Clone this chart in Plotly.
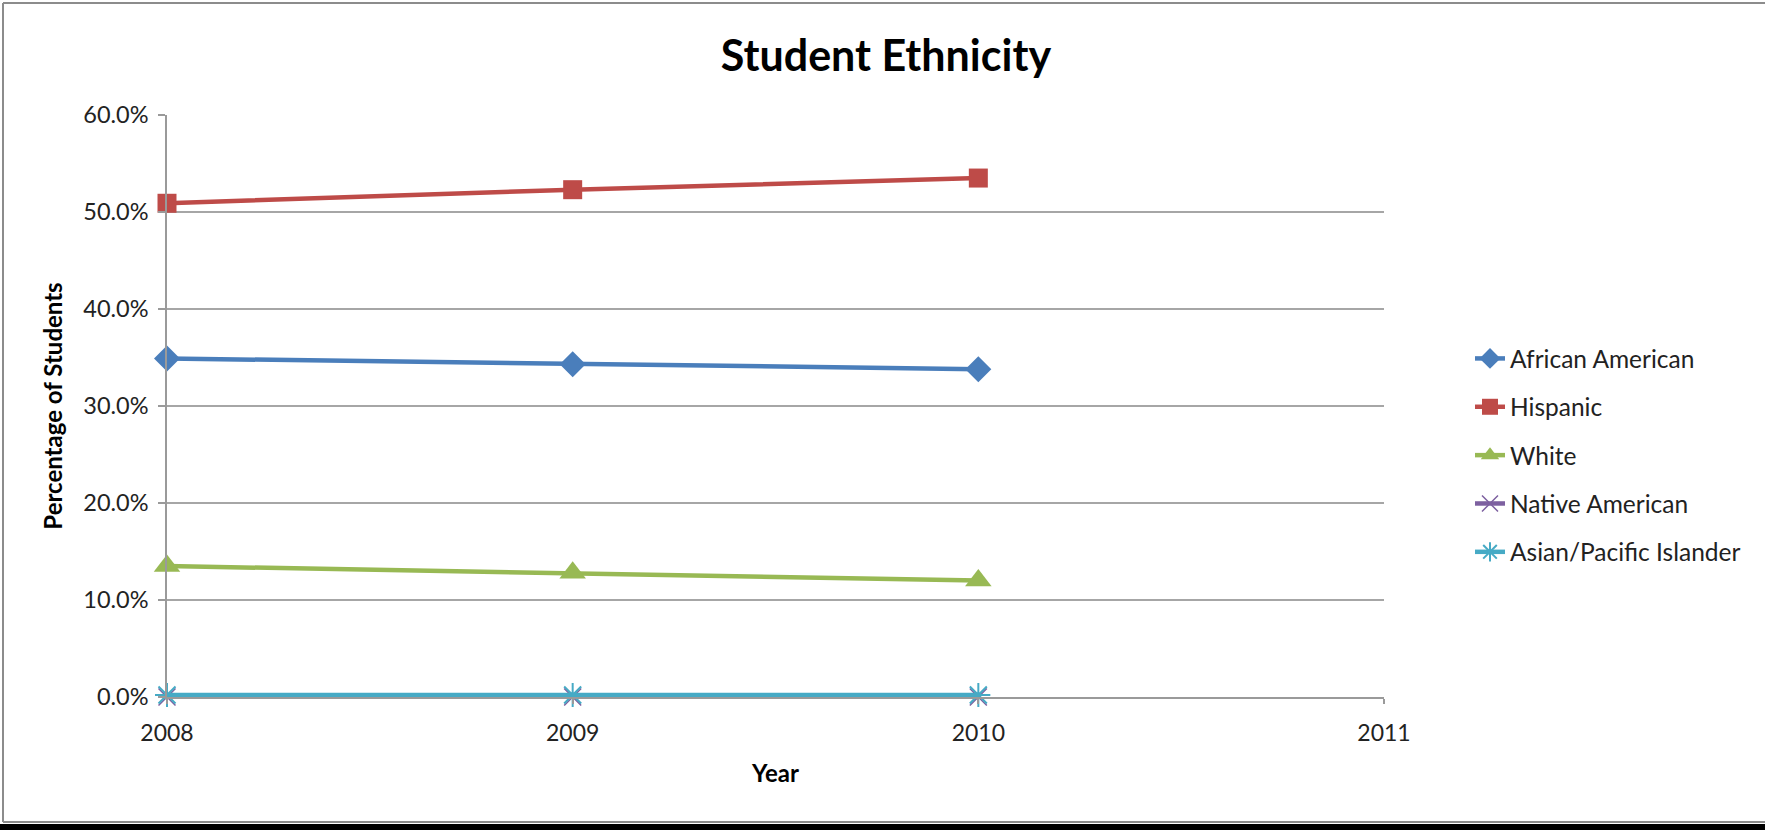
import plotly.graph_objects as go

years = [2008, 2009, 2010]
african_american = [34.9, 34.3, 33.8]
hispanic = [50.9, 52.3, 53.5]
white = [13.5, 12.8, 12.0]
native_american = [0.0, 0.0, 0.0]
asian_pacific = [0.2, 0.2, 0.2]

y_ticks = [0, 10, 20, 30, 40, 50, 60]
y_tick_labels = ["0.0%", "10.0%", "20.0%", "30.0%", "40.0%", "50.0%", "60.0%"]
x_ticks = [2008, 2009, 2010, 2011]

FONT = "Lato"
W, H = 1765, 830
L, R, T, B = 167, 1384, 115, 697

series = [
    ("African American", african_american, "#4A7EBB", dict(symbol="diamond", size=20)),
    ("Hispanic", hispanic, "#BE4B48", dict(symbol="square", size=19)),
    ("White", white, "#98B954", dict(symbol="triangle-up", size=23)),
    ("Native American", native_american, "#7D60A0",
     dict(symbol="x-thin-open", size=17, line=dict(width=1.5, color="#9C87BB"))),
    ("Asian/Pacific Islander", asian_pacific, "#46AAC5",
     dict(symbol="asterisk-open", size=20, line=dict(width=2, color="#46AAC5"))),
]

fig = go.Figure()
for i, (name, vals, color, mk) in enumerate(series):
    marker = dict(color=color, **mk)
    fig.add_trace(go.Scatter(
        x=years, y=vals, name=name, mode="lines+markers",
        line=dict(color=color, width=4.5), marker=marker,
        legendgroup=f"g{i}", cliponaxis=False,
    ))

def px_x(p):
    return (p - L) / (R - L)

def px_y(p):
    return (B - p) / (B - T)

shapes = [
    dict(type="line", xref="paper", yref="paper", x0=px_x(3), x1=px_x(W), y0=px_y(3), y1=px_y(3),
         line=dict(color="#8C8C8C", width=2)),
    dict(type="line", xref="paper", yref="paper", x0=px_x(3), x1=px_x(3), y0=px_y(3), y1=px_y(822),
         line=dict(color="#8C8C8C", width=2)),
    dict(type="line", xref="paper", yref="paper", x0=px_x(3), x1=px_x(W), y0=px_y(822), y1=px_y(822),
         line=dict(color="#8C8C8C", width=2)),
    dict(type="rect", xref="paper", yref="paper", x0=px_x(0), x1=px_x(W), y0=px_y(824), y1=px_y(832),
         line=dict(width=0), fillcolor="#000000"),
]

fig.update_layout(
    width=W, height=H,
    margin=dict(l=L, r=W - R, t=T, b=H - B, pad=0),
    paper_bgcolor="white", plot_bgcolor="white",
    font=dict(family=FONT, color="#000000", size=22),
    title=dict(text="<b>Student Ethnicity</b>", x=886 / W, xanchor="center",
               y=1 - 56 / H, yanchor="middle", font=dict(family=FONT, size=43, color="#000000")),
    xaxis=dict(
        range=[2008, 2011], tickmode="array", tickvals=x_ticks, ticktext=[str(v) for v in x_ticks],
        showgrid=False, zeroline=False, showline=True, linecolor="#9A9A9A", linewidth=1.5,
        ticks="outside", ticklen=5, tickcolor="#9A9A9A", tickwidth=1.5,
        tickfont=dict(family=FONT, size=23, color="#222222"), ticklabelstandoff=10,
        title=dict(text="<b>Year</b>", font=dict(family=FONT, size=24, color="#000000"), standoff=20),
    ),
    yaxis=dict(
        range=[0, 60], tickmode="array", tickvals=y_ticks, ticktext=y_tick_labels,
        showgrid=True, gridcolor="#A6A6A6", gridwidth=1.5, zeroline=False,
        showline=True, linecolor="#9A9A9A", linewidth=1.5,
        ticks="outside", ticklen=7, tickcolor="#9A9A9A", tickwidth=1.5,
        tickfont=dict(family=FONT, size=23.5, color="#222222"), ticklabelstandoff=5,
        title=dict(text="<b>Percentage of Students</b>", font=dict(family=FONT, size=24, color="#000000"), standoff=14),
    ),
    legend=dict(
        x=px_x(1470), xanchor="left", y=px_y(336), yanchor="top",
        font=dict(family=FONT, size=24.5, color="#222222"),
        tracegroupgap=13.5, bgcolor="rgba(0,0,0,0)", traceorder="grouped",
    ),
    shapes=shapes,
    showlegend=True,
)

fig.write_html("out.html")
